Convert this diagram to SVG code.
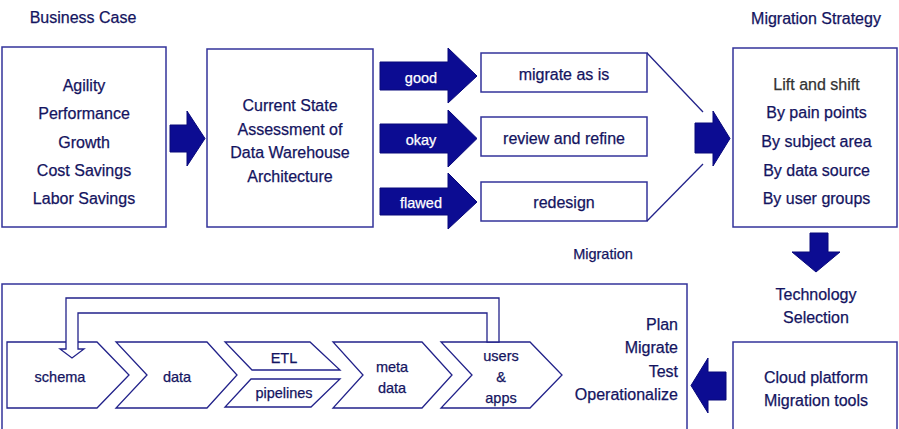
<svg xmlns="http://www.w3.org/2000/svg" width="899" height="429" viewBox="0 0 899 429">
<style>
.t{font-family:"Liberation Sans",Arial,sans-serif;font-size:16px;fill:#14145f;stroke:#14145f;stroke-width:0.25;text-anchor:middle}
.s{font-size:14.5px}
.w{fill:#ffffff;stroke:#ffffff}
.g{fill:#333333;stroke:#333333}
.r{text-anchor:end}
.box{fill:#ffffff;stroke:#33339a;stroke-width:1.5}
.arr{fill:#0c0c92;stroke:#08087a;stroke-width:1}
.ln{fill:none;stroke:#22228a;stroke-width:1.3}
.chev{fill:#ffffff;stroke:#22228a;stroke-width:1.3;stroke-linejoin:miter}
</style>
<rect width="899" height="429" fill="#ffffff"/>

<g id="title-business-case"><text class="t" x="83" y="23">Business Case</text></g>
<g id="title-migration-strategy"><text class="t" x="816" y="24">Migration Strategy</text></g>

<g id="business-case">
<rect class="box" x="2" y="47" width="164" height="180"/>
<text class="t" x="84" y="91">Agility</text>
<text class="t" x="84" y="119">Performance</text>
<text class="t" x="84" y="147.5">Growth</text>
<text class="t" x="84" y="176">Cost Savings</text>
<text class="t" x="84" y="204">Labor Savings</text>
</g>

<g id="current-state">
<rect class="box" x="207" y="49" width="166" height="178"/>
<text class="t" x="290" y="111">Current State</text>
<text class="t" x="290" y="135">Assessment of</text>
<text class="t" x="290" y="158">Data Warehouse</text>
<text class="t" x="290" y="182">Architecture</text>
</g>

<g id="migrate-as-is">
<rect class="box" x="481" y="53" width="166" height="39"/>
<text class="t" x="564" y="80">migrate as is</text>
</g>
<g id="review-and-refine">
<rect class="box" x="481" y="117" width="166" height="39"/>
<text class="t" x="564" y="144">review and refine</text>
</g>
<g id="redesign">
<rect class="box" x="481" y="182" width="166" height="39"/>
<text class="t" x="564" y="208">redesign</text>
</g>

<g id="migration-label"><text class="t s" x="603" y="259">Migration</text></g>

<g id="migration-strategy">
<rect class="box" x="733" y="48" width="164" height="179"/>
<text class="t g" x="816.5" y="90">Lift and shift</text>
<text class="t" x="816.5" y="118">By pain points</text>
<text class="t" x="816.5" y="147">By subject area</text>
<text class="t" x="816.5" y="176">By data source</text>
<text class="t" x="816.5" y="204">By user groups</text>
</g>

<g id="technology-selection">
<text class="t" x="816" y="300">Technology</text>
<text class="t" x="816" y="323">Selection</text>
</g>

<g id="cloud-platform">
<rect class="box" x="733" y="342" width="164" height="95"/>
<text class="t" x="816" y="383">Cloud platform</text>
<text class="t" x="816" y="406">Migration tools</text>
</g>

<g id="migration-process">
<rect class="box" x="2" y="284" width="685" height="150"/>
<text class="t r" x="678" y="330">Plan</text>
<text class="t r" x="678" y="353">Migrate</text>
<text class="t r" x="678" y="377">Test</text>
<text class="t r" x="678" y="400">Operationalize</text>
</g>

<g id="chevron-schema">
<polygon class="chev" points="7,342 97,342 129,375 97,408 7,408"/>
<text class="t s" x="60" y="382">schema</text>
</g>
<g id="chevron-data">
<polygon class="chev" points="116,342 207,342 237,375 207,408 116,408 147,375"/>
<text class="t s" x="177" y="382">data</text>
</g>
<g id="chevron-etl">
<polygon class="chev" points="225,342 310,342 340,370 252,370"/>
<text class="t s" x="284" y="363">ETL</text>
</g>
<g id="chevron-pipelines">
<polygon class="chev" points="251,379 340,379 311,407 225,407"/>
<text class="t s" x="284" y="398">pipelines</text>
</g>
<g id="chevron-meta-data">
<polygon class="chev" points="333,342 422,342 452,375 422,408 333,408 363,375"/>
<text class="t s" x="392" y="372">meta</text>
<text class="t s" x="392" y="393">data</text>
</g>
<g id="chevron-users-apps">
<polygon class="chev" points="441,342 530,342 562,375 530,408 441,408 472,375"/>
<text class="t s" x="501" y="361">users</text>
<text class="t s" x="501" y="382">&amp;</text>
<text class="t s" x="501" y="403">apps</text>
</g>

<g id="connectors">
<polygon class="arr" points="170,125 187,125 187,111 205,138.5 187,166 187,152 170,152"/>
<polygon class="arr" points="380,62 448,62 448,48 477,76 448,103 448,90 380,90"/>
<polygon class="arr" points="380,124 448,124 448,110 477,138.5 448,167 448,153 380,153"/>
<polygon class="arr" points="380,188 448,188 448,173 477,202 448,229 448,215 380,215"/>
<polyline class="ln" points="647,53 703,112"/>
<polyline class="ln" points="647,221 703,164"/>
<polygon class="arr" points="695,123 713,123 713,111 730,138.5 713,166 713,153 695,153"/>
<polygon class="arr" points="810,233 828,233 828,252 840,252 816,272 792,252 810,252"/>
<polygon class="arr" points="726,372 708,372 708,358 691,385.5 708,413 708,400 726,400"/>
<polygon class="chev" points="487,342 487,313 78,313 78,349 84,349 72,358 60,349 66,349 66,298 499,298 499,342"/>
</g>
<g id="arrow-labels">
<text class="t s w" x="421" y="83">good</text>
<text class="t s w" x="421" y="145">okay</text>
<text class="t s w" x="421" y="208">flawed</text>
</g>
</svg>
